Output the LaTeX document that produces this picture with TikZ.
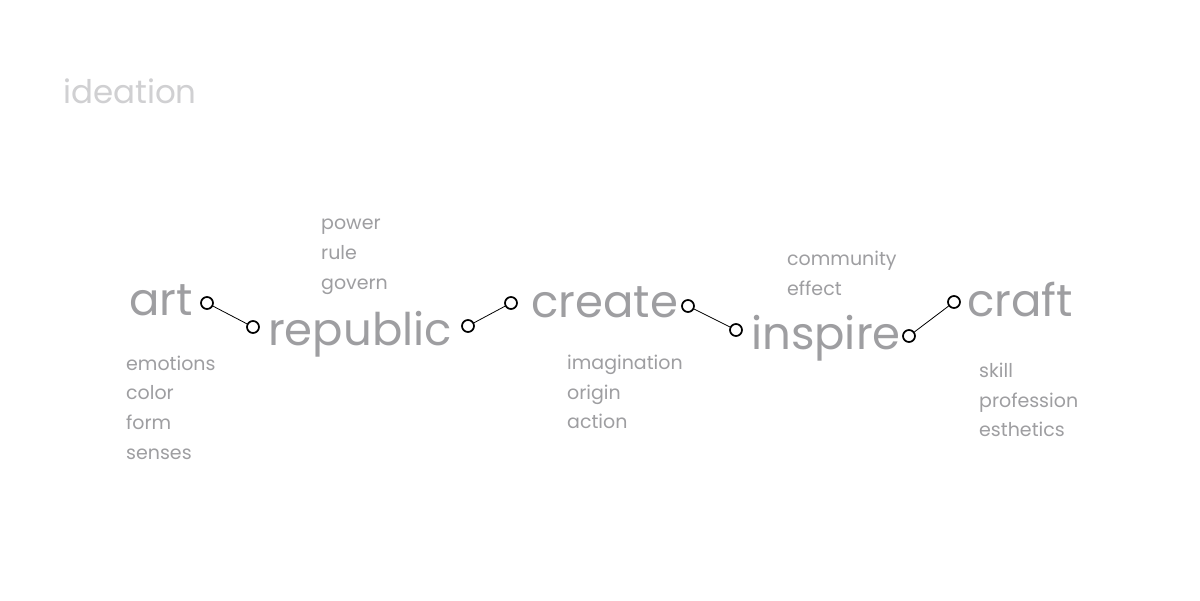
\documentclass[tikz,border=0pt]{standalone}
\usepackage{fontspec}
\setmainfont{Poppins}
\definecolor{wordgray}{RGB}{158,158,161}
\definecolor{titlegray}{RGB}{208,208,210}
\tikzset{
  bigword/.style={text=wordgray,font=\fontsize{45}{45}\selectfont,anchor=base west,inner sep=0},
  smallword/.style={text=wordgray,font=\fontsize{19}{19}\selectfont,anchor=base west,inner sep=0},
  ring/.style={circle,draw=black,line width=1.7pt,fill=white,minimum size=12pt,inner sep=0},
  link/.style={black,line width=0.8pt}
}
\begin{document}
\begin{tikzpicture}[x=1pt,y=-1pt]
	\useasboundingbox[fill=white] (0,0) rectangle (1200,601);

	\node[text=titlegray,font=\fontsize{32.5}{32.5}\selectfont,anchor=west,inner sep=0] (title) at (63,91){ideation};

	% main words
	\node[bigword] (art) at (129,316){art};
	\node[bigword] (republic) at (268,346){republic};
	\node[bigword] (create) at (531,318){create};
	\node[bigword] (inspire) at (751,350){inspire};
	\node[bigword] (craft) at (967,317){craft};

	% links
	\node[ring] (artR) at (207,303){};
	\node[ring] (repL) at (253,327){};
	\node[ring] (repR) at (468,326){};
	\node[ring] (creL) at (511,303){};
	\node[ring] (creR) at (688,306){};
	\node[ring] (insL) at (736,330){};
	\node[ring] (insR) at (909,336){};
	\node[ring] (craL) at (954,302){};
	\draw[link] (artR) -- (repL);
	\draw[link] (repR) -- (creL);
	\draw[link] (creR) -- (insL);
	\draw[link] (insR) -- (craL);

	% art
	\node[smallword] (emotions) at (126,371){emotions};
	\node[smallword] (color) at (126,400){color};
	\node[smallword] (form) at (126,430){form};
	\node[smallword] (senses) at (126,460){senses};

	% republic
	\node[smallword] (power) at (321,230){power};
	\node[smallword] (rule) at (321,260){rule};
	\node[smallword] (govern) at (321,290){govern};

	% create
	\node[smallword] (imagination) at (567,370){imagination};
	\node[smallword] (origin) at (567,400){origin};
	\node[smallword] (action) at (567,429){action};

	% inspire
	\node[smallword] (community) at (787,266){community};
	\node[smallword] (effect) at (787,296){effect};

	% craft
	\node[smallword] (skill) at (979,378){skill};
	\node[smallword] (profession) at (979,408){profession};
	\node[smallword] (esthetics) at (979,437){esthetics};
\end{tikzpicture}
\end{document}
